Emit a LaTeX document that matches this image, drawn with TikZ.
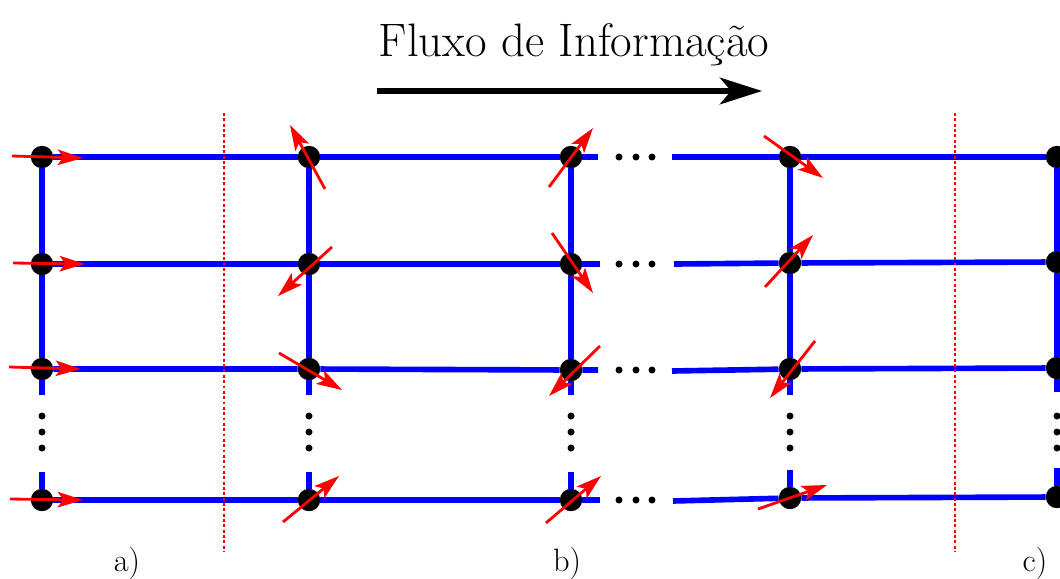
\documentclass[tikz,border=0pt]{standalone}
\usetikzlibrary{arrows.meta,backgrounds}
\definecolor{bondblue}{RGB}{0,0,255}
\definecolor{spinred}{RGB}{255,0,0}

\tikzset{
  site/.style={circle, fill=black, inner sep=0pt, minimum size=0.56cm},
  bond/.style={bondblue, line width=4pt},
  spin/.style={spinred, line width=2pt, -{Stealth[length=18pt,width=11pt,inset=4pt]}},
  cutline/.style={spinred, line width=1.6pt, dash pattern=on 2pt off 1.8pt},
  label/.style={inner sep=0pt, font=\fontsize{23}{28}\selectfont},
}

\begin{document}
\begin{tikzpicture}[x=0.025cm, y=-0.025cm]

    \useasboundingbox (0,0) rectangle (1060,579);

    % Title and flow arrow
    \node[anchor=base, inner sep=0pt, font=\fontsize{33.4}{40}\selectfont] at (574,56) (Title) {Fluxo de Informação};
    \coordinate (FlowStart) at (377,91);
    \coordinate (FlowEnd) at (762,91);
    \draw[line width=3.6pt, -{Stealth[length=30pt,width=19pt,inset=8pt]}] (FlowStart) -- (FlowEnd);

    % Lattice sites
    \node[site] at (42,157) (a1) {};
    \node[site] at (42,264) (a2) {};
    \node[site] at (42,369) (a3) {};
    \node[site] at (42,500) (a4) {};
    \node[site] at (309,157) (b1) {};
    \node[site] at (309,264) (b2) {};
    \node[site] at (309,369) (b3) {};
    \node[site] at (309,500) (b4) {};
    \node[site] at (571,157) (c1) {};
    \node[site] at (571,264) (c2) {};
    \node[site] at (571,370) (c3) {};
    \node[site] at (571,500) (c4) {};
    \node[site] at (790,157) (d1) {};
    \node[site] at (790,263) (d2) {};
    \node[site] at (790,369) (d3) {};
    \node[site] at (790,498) (d4) {};
    \node[site] at (1057,157) (e1) {};
    \node[site] at (1057,262) (e2) {};
    \node[site] at (1057,368) (e3) {};
    \node[site] at (1057,497) (e4) {};

    % Ends of the broken bonds
    \coordinate (l1) at (598,157);
    \coordinate (l2) at (600,264);
    \coordinate (l3) at (598,370);
    \coordinate (l4) at (600,500);
    \coordinate (r1) at (672,157);
    \coordinate (r2) at (674,264);
    \coordinate (r3) at (672,371);
    \coordinate (r4) at (673,501);
    \coordinate (as) at (42,395);   \coordinate (an) at (42,472);
    \coordinate (bs) at (309,395);  \coordinate (bn) at (309,472);
    \coordinate (cs) at (571,395);  \coordinate (cn) at (571,472);
    \coordinate (ds) at (790,395);  \coordinate (dn) at (790,470);
    \coordinate (es) at (1057,392); \coordinate (en) at (1057,468);

    % Bonds
    \begin{scope}[on background layer]
        \draw[bond] (a1) -- (b1) -- (c1) -- (l1);
        \draw[bond] (a2) -- (b2) -- (c2) -- (l2);
        \draw[bond] (a3) -- (b3) -- (c3) -- (l3);
        \draw[bond] (a4) -- (b4) -- (c4) -- (l4);
        \draw[bond] (r1) -- (d1) -- (e1);
        \draw[bond] (r2) -- (d2) -- (e2);
        \draw[bond] (r3) -- (d3) -- (e3);
        \draw[bond] (r4) -- (d4) -- (e4);
        \draw[bond] (a1) -- (a2) -- (a3) -- (as);
        \draw[bond] (b1) -- (b2) -- (b3) -- (bs);
        \draw[bond] (c1) -- (c2) -- (c3) -- (cs);
        \draw[bond] (d1) -- (d2) -- (d3) -- (ds);
        \draw[bond] (e1) -- (e2) -- (e3) -- (es);
        \draw[bond] (an) -- (a4);
        \draw[bond] (bn) -- (b4);
        \draw[bond] (cn) -- (c4);
        \draw[bond] (dn) -- (d4);
        \draw[bond] (en) -- (e4);
    \end{scope}

    % Ellipsis dots
    \foreach \x in {42,309,571,790,1057}
        \foreach \y in {416,432,448}
            \fill (\x,\y) circle (3.5);
    \foreach \y in {157,264,370,500}
        \foreach \x in {619,636,652}
            \fill (\x,\y) circle (3.5);

    % Cuts
    \coordinate (CutTopA) at (224,113);
    \coordinate (CutBotA) at (224,552);
    \coordinate (CutTopB) at (955,113);
    \coordinate (CutBotB) at (955,552);
    \draw[cutline] (CutTopA) -- (CutBotA);
    \draw[cutline] (CutTopB) -- (CutBotB);

    % Spins
    \draw[spin] (12,156) -- (83,158);
    \draw[spin] (13,263) -- (85,264);
    \draw[spin] (9,367) -- (81,369);
    \draw[spin] (10,499) -- (83,500);

    \draw[spin] (325,189) -- (290,125);
    \draw[spin] (332,247) -- (278,296);
    \draw[spin] (279,353) -- (342,390);
    \draw[spin] (283,522) -- (339,476);

    \draw[spin] (549,187) -- (593,128);
    \draw[spin] (552,233) -- (593,293);
    \draw[spin] (600,346) -- (549,396);
    \draw[spin] (546,523) -- (601,476);

    \draw[spin] (764,136) -- (823,178);
    \draw[spin] (765,287) -- (813,235);
    \draw[spin] (815,341) -- (770,398);
    \draw[spin] (758,509) -- (827,485);

    % Panel labels
    \node[label] at (127,563) (LabelA) {a)};
    \node[label] at (567,563) (LabelB) {b)};
    \node[label] at (1035,563) (LabelC) {c)};

\end{tikzpicture}
\end{document}
